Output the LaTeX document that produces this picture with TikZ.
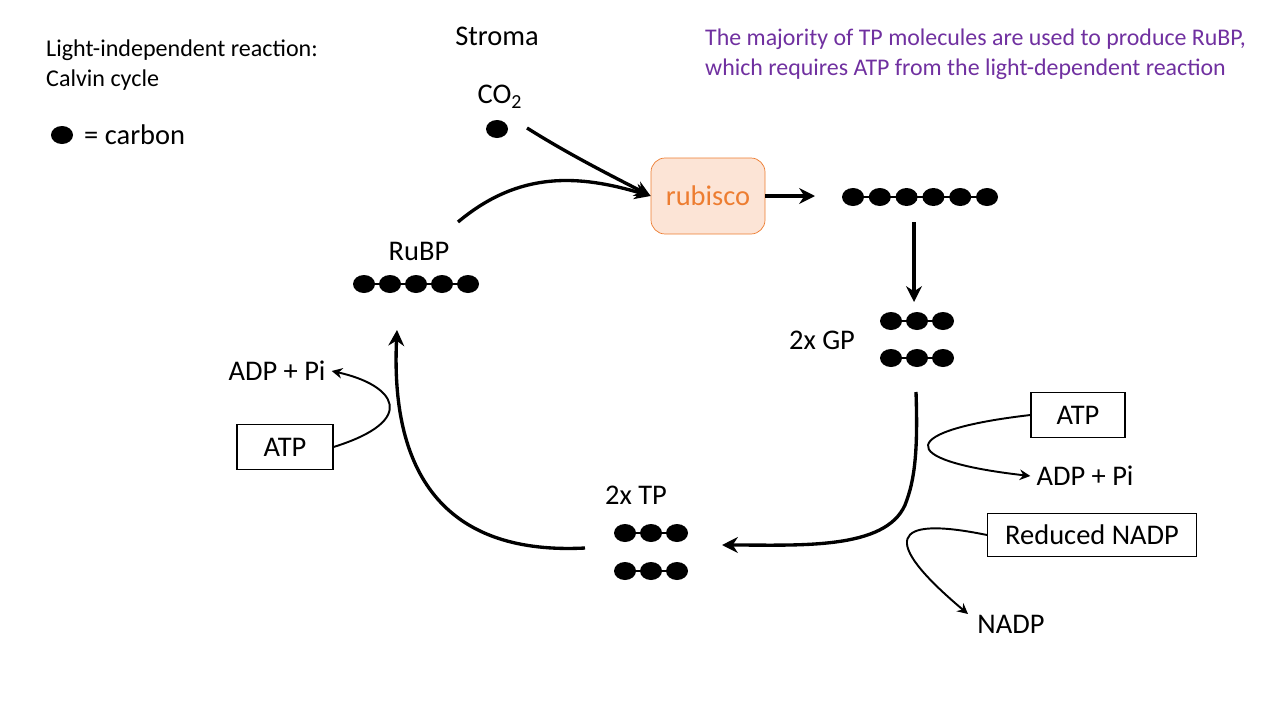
\documentclass[tikz,border=0pt]{standalone}
\usepackage{fontspec}
\setmainfont{Carlito}
\usetikzlibrary{arrows.meta}
\definecolor{purp}{RGB}{112,48,160}
\definecolor{rubf}{RGB}{252,228,214}
\definecolor{rubd}{RGB}{237,125,49}
\begin{document}
\begin{tikzpicture}[x=0.02cm,y=-0.02cm,
  big/.style={font=\fontsize{16.2}{19}\selectfont},
  sm/.style={font=\fontsize{13.7}{17}\selectfont},
  thick arrow/.style={line width=1.9pt,-{Stealth[length=9pt,width=9pt]}},
  thin arrow/.style={line width=1.1pt,-{Stealth[length=6pt,width=6pt]}},
  box/.style={draw,line width=0.6pt,big,inner sep=0pt}]
\useasboundingbox (0,0) rectangle (1280,720);
\newcommand{\mychain}[4]{% x0 y n step
  \draw[line width=1pt] (#1,#2) -- ++({(#3-1)*#4},0);
  \foreach \i in {1,...,#3}{\fill ({#1+(\i-1)*#4},#2) ellipse [x radius=11, y radius=9];}}
\node[sm,anchor=west,align=left] (title) at (40,65) {Light-independent reaction:\\Calvin cycle};
\fill (62,135) ellipse [x radius=11, y radius=9];
\node[big,anchor=west] (carb) at (78,135) {= carbon};
\node[big] (stroma) at (497,36) {Stroma};
\node[big,text=purp,align=left,anchor=west,font=\fontsize{13.6}{17}\selectfont] (note) at (699,54) {The majority of TP molecules are used to produce RuBP,\\which requires ATP from the light-dependent reaction};
\node[big] (co2) at (500,97) {CO\textsubscript{2}};
\fill (497,129) ellipse [x radius=11, y radius=9];
\node[draw=rubd,fill=rubf,text=rubd,rounded corners=8pt,minimum width=114*0.02cm,minimum height=76*0.02cm,big] (rub) at (708,196) {rubisco};
\coordinate (co2s) at (527,128);
\draw[thick arrow] (co2s) .. controls (570,155) and (610,175) .. (rub.west);
\coordinate (rubs) at (458,222);
\draw[thick arrow] (rubs) .. controls (520,170) and (580,175) .. (rub.west);
\coordinate (six) at (815,196);
\draw[thick arrow] (rub.east) -- (six);
\mychain{853}{197}{6}{26.8}
\coordinate (a1) at (914,222); \coordinate (a2) at (914,302);
\draw[thick arrow] (a1) -- (a2);
\node[big] (gp) at (822,340) {2x GP};
\mychain{891}{321}{3}{26}
\mychain{891}{358}{3}{26}
\coordinate (g1) at (916,392); \coordinate (tpend) at (722,545);
\draw[thick arrow] (g1) .. controls (918,450) and (915,480) .. (905,505) .. controls (885,550) and (800,545) .. (tpend);
\node[box,minimum width=94*0.02cm,minimum height=45*0.02cm] (atp1) at (1078,415) {ATP};
\node[big] (adp1) at (1085,476) {ADP + Pi};
\draw[thin arrow] (atp1.west) .. controls (900,430) and (890,460) .. (adp1.west);
\node[box,minimum width=209*0.02cm,minimum height=43*0.02cm] (nadph) at (1092,535) {Reduced NADP};
\node[big] (nadp) at (1011,624) {NADP};
\draw[thin arrow] (nadph.west) .. controls (890,515) and (880,540) .. (968,614);
\node[big] (tp) at (636,495) {2x TP};
\mychain{625}{533}{3}{26}
\mychain{625}{571}{3}{26}
\coordinate (t1) at (585,548); \coordinate (rend) at (397,330);
\draw[thick arrow] (t1) .. controls (450,555) and (390,480) .. (rend);
\node[box,minimum width=96*0.02cm,minimum height=45*0.02cm] (atp2) at (285,447) {ATP};
\node[big] (adp2) at (277,371) {ADP + Pi};
\draw[thin arrow] (atp2.east) .. controls (420,420) and (395,385) .. (adp2.east);
\node[big] (rubp) at (419,251) {RuBP};
\mychain{364}{284}{5}{26}
\end{tikzpicture}
\end{document}
